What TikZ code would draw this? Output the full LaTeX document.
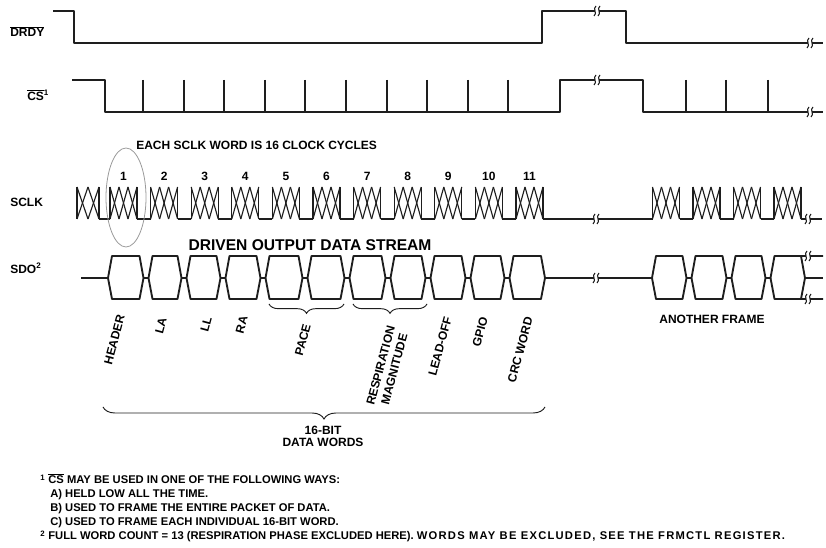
\documentclass[tikz,border=0pt]{standalone}
\usepackage{fontspec}
\setmainfont{Liberation Sans}
\usetikzlibrary{decorations.pathreplacing}
\definecolor{cink}{HTML}{1E1E1E}
\definecolor{cring}{HTML}{9A9A9A}
\tikzset{
  every picture/.style={font=\bfseries\fontsize{9}{10.5}\selectfont},
  wave/.style={draw=cink, line width=1.4pt, line join=round},
  clk/.style={draw=cink, line width=0.85pt},
  tag/.style={inner sep=0pt, anchor=base west},
  num/.style={inner sep=0pt, anchor=base},
  word/.style={inner sep=0pt, rotate=75, anchor=east, align=center},
  foot/.style={inner sep=0pt, anchor=base west, font=\bfseries\fontsize{8.4}{10}\selectfont},
  brc/.style={decorate, decoration={brace, mirror, amplitude=#1}, draw=cink, line width=0.7pt},
  brc/.default=7pt,
  ring/.style={draw=cring, line width=0.6pt},
}
% break mark on a line
\newcommand{\gapmark}[2]{%
  \fill[white] ({#1-2},{#2-6}) rectangle ({#1+2},{#2+6});
  \foreach \dx in {-2,2} {
    \draw[cink, line width=0.8pt] ({#1+\dx-1},{#2+5}) .. controls ({#1+\dx+3},{#2+2}) and ({#1+\dx-3},{#2-2}) .. ({#1+\dx+1},{#2-5});
  }
}
% one SCLK word: start, width, crossings
\newcommand{\clkburst}[3]{%
  \draw[clk] ({#1},187) -- ({#1},219);
  \draw[clk] ({#1+#2},187) -- ({#1+#2},219);
  \foreach \s in {1,...,#3} {
    \draw[clk] ({#1+(\s-1)*#2/#3},187) -- ({#1+\s*#2/#3},219);
    \draw[clk] ({#1+(\s-1)*#2/#3},219) -- ({#1+\s*#2/#3},187);
  }
}
% one SDO word between two transitions
\newcommand{\sdoword}[2]{%
  \draw[wave] ({#1+2.5},278) -- ({#1+6.5},256) -- ({#2-6.5},256) -- ({#2-2.5},278)
    -- ({#2-6.5},299) -- ({#1+6.5},299) -- cycle;
}

\begin{document}
\begin{tikzpicture}[x=0.75pt, y=-0.75pt]
  \useasboundingbox (0,0) rectangle (826,548);

  % DRDY
  \node[tag] (drdy) at (10,37) {$\overline{\mbox{DRDY}}$};
  \draw[wave] (53,11) -- (74,11) -- (74,43) -- (542,43) -- (542,11) -- (626,11) -- (626,43) -- (823,43);
  \gapmark{597}{11}
  \gapmark{810}{43}

  % CS
  \node[tag] (cs) at (27,101) {$\overline{\mbox{CS}}$\textsuperscript{1}};
  \draw[wave] (72,80) -- (105,80) -- (105,112) -- (560,112) -- (560,80) -- (643,80) -- (643,112) -- (823,112);
  \foreach \i in {0,...,9} {
    \draw[wave] ({143+40.6*\i},80) -- ({143+40.6*\i},112);
  }
  \foreach \x in {686,726,768} {
    \draw[wave] (\x,80) -- (\x,112);
  }
  \gapmark{597}{80}
  \gapmark{810}{112}

  % SCLK
  \node[tag] (sclk) at (10,207) {SCLK};
  \node[tag] (cycles) at (136,150) {EACH SCLK WORD IS 16 CLOCK CYCLES};
  \clkburst{77}{22}{2}
  \draw[clk] (99,219) -- (110,219);
  \foreach \k [evaluate=\k as \bx using 110+40.6*(\k-1)] in {1,...,11} {
    \clkburst{\bx}{27}{3}
    \node[num] (w\k) at ({\bx+13.5},181) {\k};
  }
  \foreach \k [evaluate=\k as \ax using 137+40.6*(\k-1), evaluate=\k as \bx using 110+40.6*\k] in {1,...,10} {
    \draw[clk] (\ax,219) -- (\bx,219);
  }
  \draw[clk] (543,219) -- (652.5,219);
  \foreach \bx in {652.5,693,733.5,774} {
    \clkburst{\bx}{27}{3}
  }
  \foreach \ax/\bx in {679.5/693, 720/733.5, 760.5/774} {
    \draw[clk] (\ax,219) -- (\bx,219);
  }
  \draw[clk] (801,219) -- (822,219);
  \gapmark{596}{219}
  \gapmark{808}{219}
  \draw[ring] (126,197.5) ellipse [x radius=20, y radius=49.5];

  % SDO
  \node[tag] (sdo) at (10,274) {SDO\textsuperscript{2}};
  \node[num, font=\bfseries\fontsize{11.7}{13}\selectfont] (stream) at (310,251) {DRIVEN OUTPUT DATA STREAM};
  \draw[wave] (81,278) -- (108,278);
  \foreach \a/\b in {105.5/146, 146/184, 184/223, 223/263, 263/305, 305/347,
                     347/388, 388/428, 428/468, 468/507, 507/547.5} {
    \sdoword{\a}{\b}
  }
  \foreach \b in {146,184,223,263,305,347,388,428,468,507} {
    \draw[wave] ({\b-2.5},278) -- ({\b+2.5},278);
  }
  \draw[wave] (545,278) -- (652,278);
  \foreach \a/\b in {649.5/689, 689/729, 729/768} {
    \sdoword{\a}{\b}
  }
  \foreach \b in {689,729} {
    \draw[wave] ({\b-2.5},278) -- ({\b+2.5},278);
  }
  \draw[wave] (765.5,278) -- (770.5,278) -- (774.5,256) -- (823,256);
  \draw[wave] (770.5,278) -- (774.5,299) -- (823,299);
  \draw[wave] (801,256) -- (805,278) -- (801,299);
  \draw[wave] (805,278) -- (823,278);
  \gapmark{596}{278}
  \gapmark{808}{256}
  \gapmark{808}{299}
  \node[num] (frame2) at (712,324) {ANOTHER FRAME};

  % word labels
  \foreach \txt/\x/\y [count=\i] in {HEADER/121/315, LA/163/318, LL/208/317, RA/244/316,
                                     PACE/307/324, LEAD-OFF/448/317, GPIO/484/317, CRC WORD/529/317} {
    \node[word] (lab\i) at (\x,\y) {\txt};
  }
  \node[word] (resp) at (398,328) {RESPIRATION\\MAGNITUDE};
  \coordinate (pace0) at (269,304);
  \coordinate (pace1) at (344,304);
  \coordinate (resp0) at (353,304);
  \coordinate (resp1) at (427,304);
  \coordinate (all0) at (103,407);
  \coordinate (all1) at (545,407);
  \draw[brc] (pace0) -- (pace1);
  \draw[brc] (resp0) -- (resp1);
  \draw[brc=9pt] (all0) -- (all1);
  \node[num] (bits) at (323,435) {16-BIT};
  \node[num] (words) at (323,447) {DATA WORDS};

  % footnotes
  \node[foot] (fn1) at (40,484) {\textsuperscript{1} $\overline{\mbox{CS}}$ MAY BE USED IN ONE OF THE FOLLOWING WAYS:};
  \node[foot] (fna) at (50,498) {A) HELD LOW ALL THE TIME.};
  \node[foot] (fnb) at (50,512) {B) USED TO FRAME THE ENTIRE PACKET OF DATA.};
  \node[foot] (fnc) at (50,526) {C) USED TO FRAME EACH INDIVIDUAL 16-BIT WORD.};
  \node[foot] (fn2) at (40,540) {\textsuperscript{2} FULL WORD COUNT = 13 (RESPIRATION PHASE EXCLUDED HERE). {\addfontfeature{LetterSpace=11}WORDS MAY BE EXCLUDED, SEE THE FRMCTL REGISTER.}};
\end{tikzpicture}
\end{document}
